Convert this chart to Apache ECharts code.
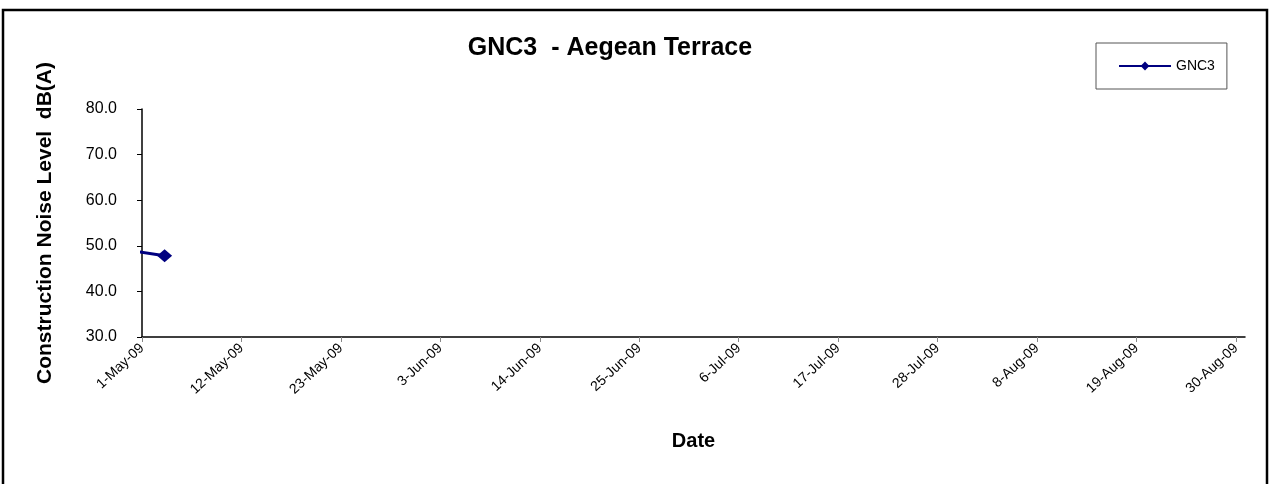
<!DOCTYPE html>
<html>
<head>
<meta charset="utf-8">
<script src="https://cdn.jsdelivr.net/npm/echarts@6/dist/echarts.min.js"></script>
<style>
  html, body { margin: 0; padding: 0; background: #fff; }
  #chart { width: 1270px; height: 484px; }
</style>
</head>
<body>
<div id="chart"></div>
<script>
// GNC3 readings (date, dB(A)); the first one lies before the axis start and is clipped
var dates = ['2009-04-26T12:00:00Z', '2009-05-03T12:00:00Z'];
var gnc3 = [50.0, 47.8];
var tickDates = ['1-May-09', '12-May-09', '23-May-09', '3-Jun-09', '14-Jun-09', '25-Jun-09',
                 '6-Jul-09', '17-Jul-09', '28-Jul-09', '8-Aug-09', '19-Aug-09', '30-Aug-09'];

var DAY = 86400000;
var start = Date.UTC(2009, 4, 1);
var monthNames = ['Jan','Feb','Mar','Apr','May','Jun','Jul','Aug','Sep','Oct','Nov','Dec'];

// x axis runs in days since 1-May-09
function dayOffset(s) {
  return (new Date(s).getTime() - start) / DAY;
}
function fmtDay(d) {
  var dt = new Date(start + d * DAY);
  return dt.getUTCDate() + '-' + monthNames[dt.getUTCMonth()] + '-' + String(dt.getUTCFullYear()).slice(2);
}
var tickDays = tickDates.map(function (t) {
  var p = t.split('-');
  var dt = Date.UTC(2000 + parseInt(p[2], 10), monthNames.indexOf(p[1]), parseInt(p[0], 10));
  return (dt - start) / DAY;
});

var chart = echarts.init(document.getElementById('chart'));
var font = 'Liberation Sans, Arial, sans-serif';

var option = {
  animation: false,
  textStyle: { fontFamily: font, color: '#000' },
  title: {
    text: 'GNC3  - Aegean Terrace',
    left: 605,
    top: 31,
    textAlign: 'center',
    textStyle: { fontSize: 25, fontWeight: 'bold', color: '#000', fontFamily: font }
  },
  legend: {
    left: 1096,
    top: 43,
    padding: [16, 12, 16, 22],
    itemWidth: 52,
    itemHeight: 11,
    borderColor: '#555',
    borderWidth: 1,
    textStyle: { fontSize: 14, color: '#000', fontFamily: font },
    data: ['GNC3']
  },
  grid: { left: 142, right: 25, top: 109, bottom: 147, containLabel: false },
  xAxis: {
    type: 'value',
    min: 0,
    max: 122,
    name: 'Date',
    nameLocation: 'middle',
    nameGap: 94,
    nameTextStyle: { fontSize: 20, fontWeight: 'bold', color: '#000', fontFamily: font },
    splitLine: { show: false },
    axisLine: { lineStyle: { color: '#000', width: 1.5 } },
    axisTick: { length: 5, lineStyle: { color: '#888' }, customValues: tickDays },
    axisLabel: {
      rotate: 43,
      margin: 9,
      fontSize: 14,
      color: '#000',
      customValues: tickDays,
      formatter: function (v) { return fmtDay(v); }
    }
  },
  yAxis: {
    type: 'value',
    min: 30,
    max: 80,
    interval: 10,
    name: 'Construction Noise Level  dB(A)',
    nameLocation: 'middle',
    nameGap: 86,
    nameTextStyle: { fontSize: 21, fontWeight: 'bold', color: '#000', fontFamily: font },
    splitLine: { show: false },
    axisLine: { show: true, lineStyle: { color: '#000', width: 1.5 } },
    axisTick: { show: true, length: 5, lineStyle: { color: '#000' } },
    axisLabel: {
      margin: 25,
      fontSize: 16,
      color: '#000',
      formatter: function (v) { return v.toFixed(1); }
    }
  },
  series: [{
    name: 'GNC3',
    type: 'line',
    clip: true,
    symbol: 'diamond',
    symbolSize: [15, 13],
    showAllSymbol: true,
    itemStyle: { color: '#000080' },
    lineStyle: { color: '#000080', width: 3 },
    data: dates.map(function (d, i) { return [dayOffset(d), gnc3[i]]; })
  }],
  graphic: [{
    type: 'rect',
    shape: { x: 3, y: 10, width: 1264, height: 490 },
    style: { fill: 'none', stroke: '#000', lineWidth: 2.5 },
    silent: true
  }]
};

chart.setOption(option);
</script>
</body>
</html>
